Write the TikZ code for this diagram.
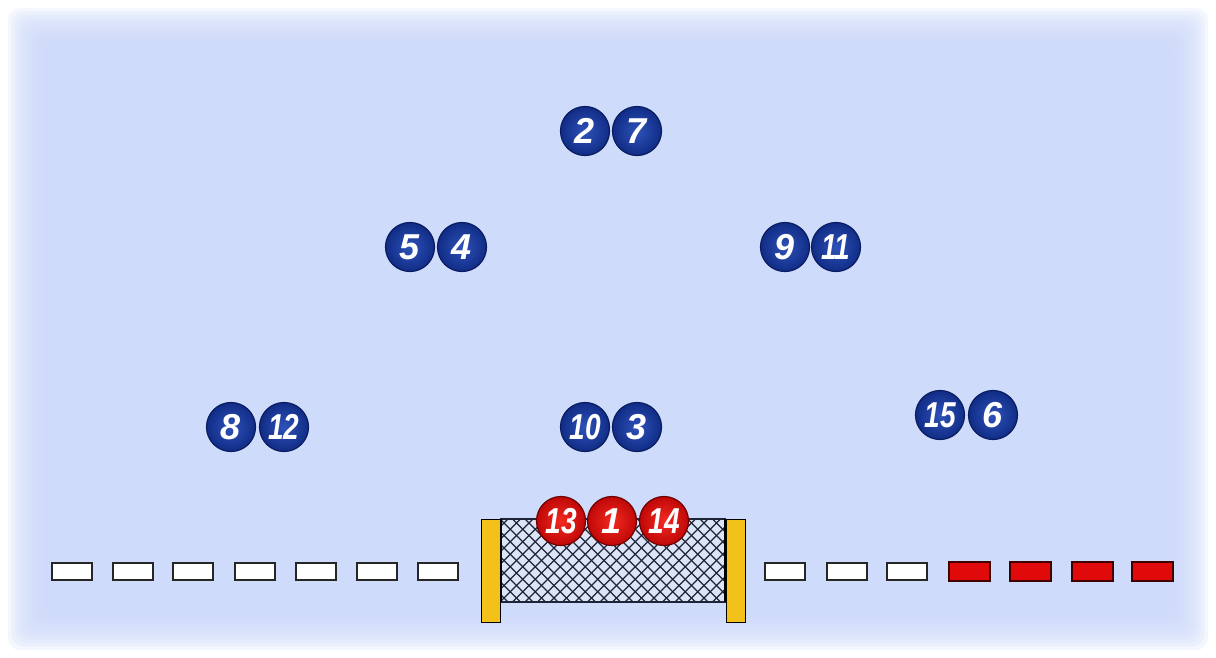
\documentclass[tikz,border=0pt]{standalone}
\usepackage{fontspec}
\setmainfont{Liberation Sans}
\definecolor{bg}{HTML}{CFDBFB}
\definecolor{bluein}{HTML}{2F52B8}
\definecolor{blueout}{HTML}{102C86}
\definecolor{blueedge}{HTML}{0A1C60}
\definecolor{redin}{HTML}{F22A20}
\definecolor{redout}{HTML}{C00808}
\definecolor{rededge}{HTML}{6E0000}
\definecolor{postc}{HTML}{F2C21A}
\definecolor{netfill}{HTML}{DCE4F8}
\definecolor{netline}{HTML}{1E2538}
\definecolor{dashred}{HTML}{E00A0A}
\begin{document}
\begin{tikzpicture}[x=1pt,y=-1pt,
  ball/.style={circle,minimum size=49pt,inner sep=0pt,line width=1.2pt,
    text=white,font=\fontsize{36}{36}\selectfont\bfseries\itshape},
  blueball/.style={ball,inner color=bluein,outer color=blueout,draw=blueedge},
  redball/.style={ball,inner color=redin,outer color=redout,draw=rededge},
  whitedash/.style={draw=black!85,line width=1.6pt,fill=white},
  reddash/.style={draw=black!75!red,line width=1.6pt,fill=dashred},
  netpost/.style={draw=black,line width=1pt,fill=postc},
  netmesh/.style={draw=netline,line width=1.1pt}]
\useasboundingbox (0,0) rectangle (1216,657);
\fill[white] (0,0) rectangle (1216,657);
\foreach \i in {0,...,11}{
  \fill[bg,opacity=0.22,rounded corners=12pt] (8+3.5*\i,8+3.5*\i) rectangle (1208-3.5*\i,650-3.5*\i);
}
\fill[bg] (50,50) rectangle (1166,607);
% blue players
\node[blueball] (p2)  at (585,131) {2};
\node[blueball] (p7)  at (637,131) {7};
\node[blueball] (p5)  at (410,247) {5};
\node[blueball] (p4)  at (462,247) {4};
\node[blueball] (p9)  at (785,247) {9};
\node[blueball] (p11) at (836,247) {\scalebox{0.78}[1]{11}};
\node[blueball] (p8)  at (231,427) {8};
\node[blueball] (p12) at (284,427) {\scalebox{0.78}[1]{12}};
\node[blueball] (p10) at (585,427) {\scalebox{0.78}[1]{10}};
\node[blueball] (p3)  at (637,427) {3};
\node[blueball] (p15) at (940,415) {\scalebox{0.78}[1]{15}};
\node[blueball] (p6)  at (993,415) {6};
% dashes
\foreach \x in {52,113,173,235,296,357,418,765,827,887}{
  \draw[whitedash] (\x,563) rectangle ++(40,17);
}
\foreach \x in {949,1010,1072,1132}{
  \draw[reddash] (\x,562) rectangle ++(41,19);
}
% net
\fill[netfill] (500,519) rectangle (726,602);
\begin{scope}
  \clip (500,519) rectangle (726,602);
  \foreach \i in {-8,...,20}{
    \draw[netmesh] (500+\i*12.5,519) -- ++(83,83);
    \draw[netmesh] (500+\i*12.5,602) -- ++(83,-83);
  }
\end{scope}
\draw[netline,line width=1.4pt] (500,519) -- (726,519);
\draw[netline,line width=1.4pt] (500,602) -- (726,602);
\draw[black,line width=2.4pt] (725,519) -- (725,602);
\draw[black,line width=2.4pt] (501,519) -- (501,602);
\draw[netpost] (481,519) rectangle (500,622);
\draw[netpost] (726,519) rectangle (745,622);
% red players
\node[redball] (r13) at (561,521) {\scalebox{0.78}[1]{13}};
\node[redball] (r1)  at (612,521) {1};
\node[redball] (r14) at (664,521) {\scalebox{0.78}[1]{14}};
\end{tikzpicture}
\end{document}
